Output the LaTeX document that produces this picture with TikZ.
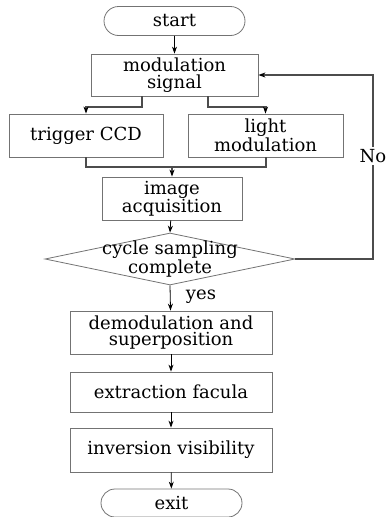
\documentclass[tikz,border=0pt]{standalone}
\usepackage{fontspec}
\setmainfont{DejaVu Serif}
\usetikzlibrary{arrows.meta, shapes.geometric, shapes.misc}

\begin{document}
\begin{tikzpicture}[x=1pt, y=-1pt,
    font=\fontsize{18}{16.5}\selectfont,
    >={Stealth[black, length=7pt, width=5pt]},
    box/.style={rectangle, draw=black!55, thick, align=center, inner sep=0pt},
    term/.style={rounded rectangle, draw=black!55, thick, inner sep=0pt},
    flow/.style={draw=black, thick},
    bus/.style={draw=black!70, line width=2pt}]
\useasboundingbox (0,0) rectangle (386,517);

\node (start) at (174.5, 21) [term, minimum width=141pt, minimum height=29pt] {start};
\node (mod) at (174.5, 75) [box, minimum width=167pt, minimum height=42pt] {modulation\\signal};
\node (trig) at (86, 135.5) [box, minimum width=154pt, minimum height=43pt] {trigger CCD};
\node (light) at (265.5, 135.5) [box, minimum width=155pt, minimum height=43pt] {light\\modulation};
\node (img) at (172, 198.5) [box, minimum width=140pt, minimum height=43pt] {image\\acquisition};
\node (dia) at (170, 259) [diamond, draw=black!55, thick, inner sep=0pt,
    minimum width=250pt, minimum height=52pt] {};
\node (diatext) at (170, 259) [align=center, inner sep=0pt] {cycle sampling\\complete};
\node (demod) at (171, 332.5) [box, minimum width=202pt, minimum height=43pt] {demodulation and\\superposition};
\node (extr) at (171, 392) [box, minimum width=202pt, minimum height=40pt] {extraction facula};
\node (inv) at (171, 450) [box, minimum width=202pt, minimum height=44pt] {inversion visibility};
\node (exit) at (171.5, 503) [term, minimum width=141pt, minimum height=28pt] {exit};

% branch and merge points
\coordinate (modl) at (142, 107);
\coordinate (modr) at (208, 107);
\coordinate (merge) at (172, 167);
\coordinate (loop) at (373, 259);

\path [->] (start) edge [flow] (mod);
\draw [bus, ->] (142,0 |- mod.south) -- (modl) -| (trig.north);
\draw [bus, ->] (208,0 |- mod.south) -- (modr) -| (light.north);
\draw [bus] (trig.south) |- (merge) -| (light.south);
\draw [bus, ->] (merge) -- (img.north);
\path [->] (img) edge [flow] (dia.north);
\draw [bus, ->] (dia.east) -- (loop) |- (mod.east)
    node [pos=0.28, fill=white, inner sep=2pt] (no) {No};
\path [->] (dia.south) edge [flow] node [right=12pt, pos=0.45] (yes) {yes} (demod);
\path [->] (demod) edge [flow] (extr);
\path [->] (extr) edge [flow] (inv);
\path [->] (inv) edge [flow] (exit);
\end{tikzpicture}
\end{document}
